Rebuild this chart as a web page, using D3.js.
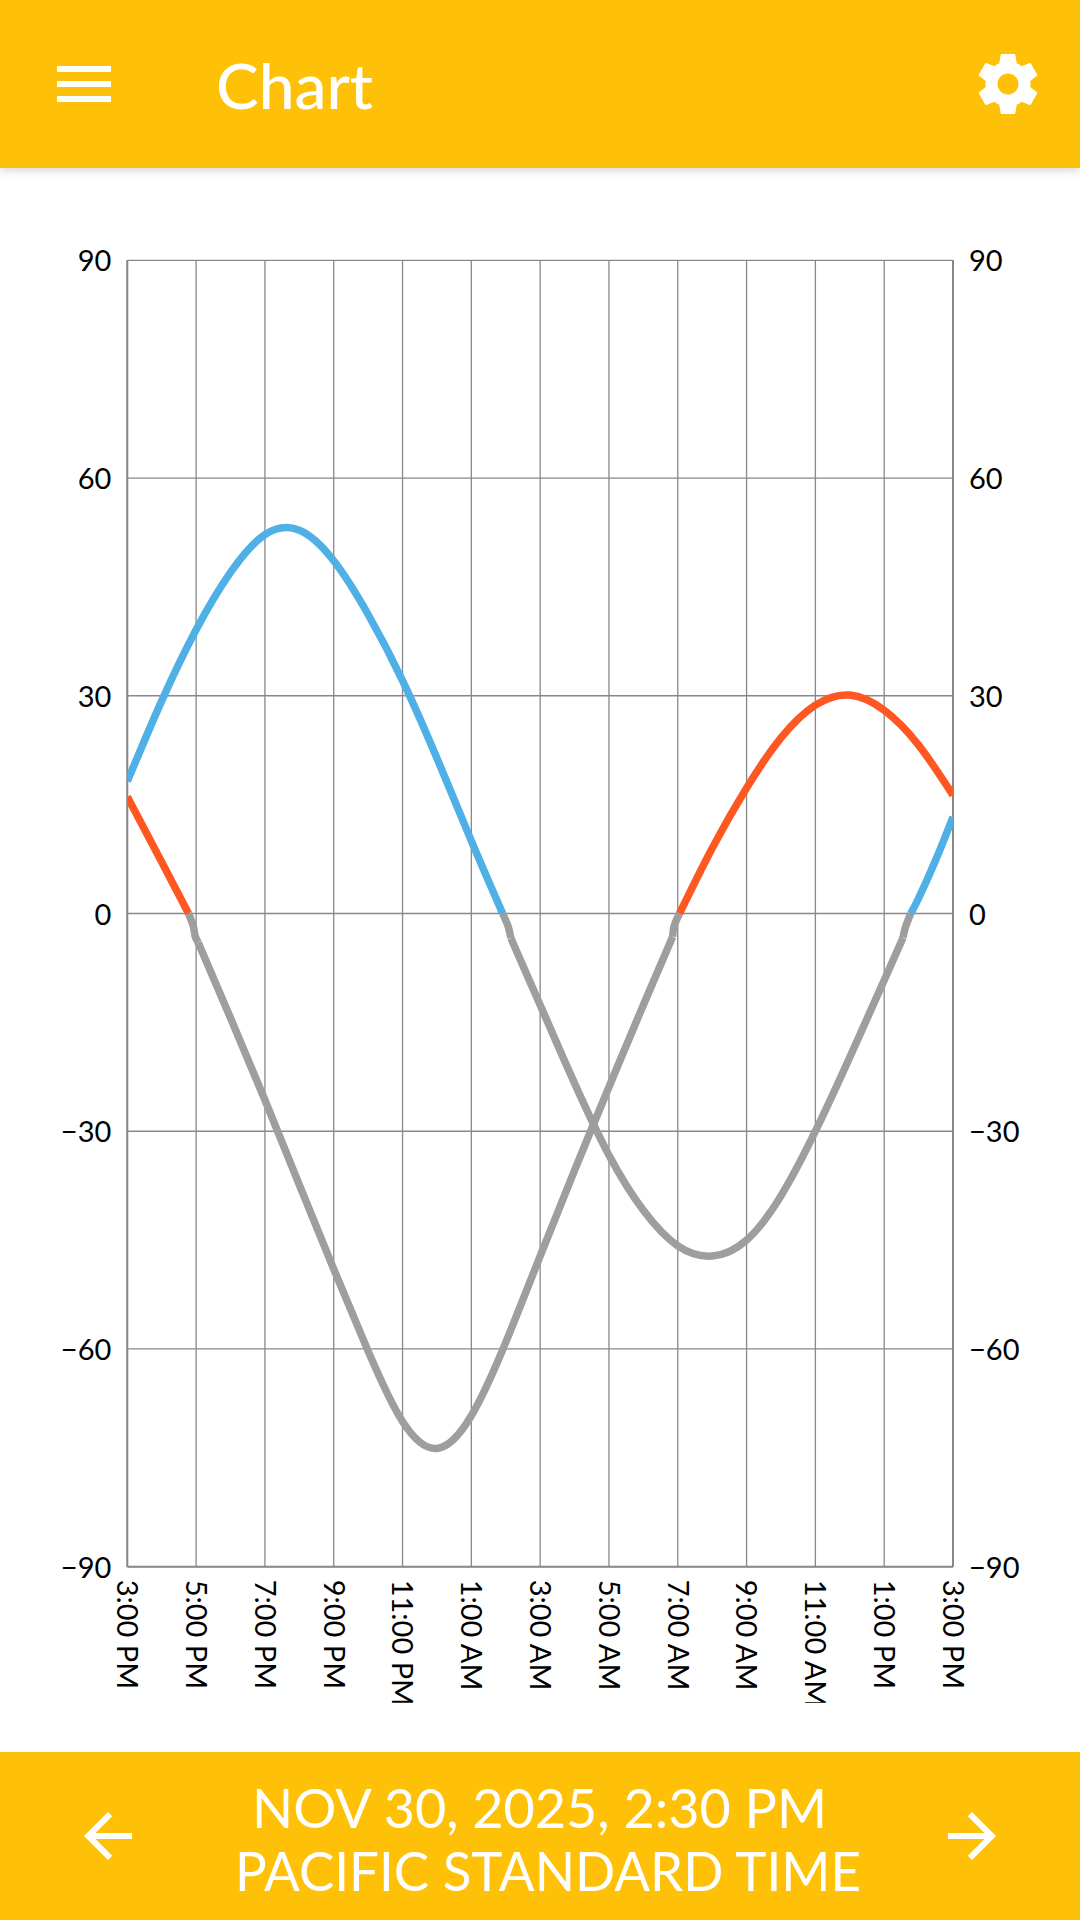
<!DOCTYPE html>
<html>
<head>
<meta charset="utf-8">
<title>Chart</title>
<script src="https://cdn.jsdelivr.net/npm/d3@7"></script>
<style>
  html, body { margin: 0; padding: 0; background: #fff; }
  svg { display: block; font-family: Lato, sans-serif; }
  .domain { display: none; }
  .tick line { stroke: #888; stroke-width: 1.3; }
  .tick text { fill: #000; font-size: 29px; font-family: Lato, sans-serif; }
</style>
</head>
<body>
<div id="chart"></div>
<script>
// Tick values and labels
const yTicks = [-90, -60, -30, 0, 30, 60, 90];
const xTicks = [0, 2, 4, 6, 8, 10, 12, 14, 16, 18, 20, 22, 24];
const xLabels = ["3:00 PM", "5:00 PM", "7:00 PM", "9:00 PM", "11:00 PM", "1:00 AM", "3:00 AM", "5:00 AM", "7:00 AM", "9:00 AM", "11:00 AM", "1:00 PM", "3:00 PM"];

// Hours after 3:00 PM, and degrees
const blueFirstHours = [0, 1, 2, 3, 4, 5, 6, 7, 8, 9, 10, 10.91];
const blueFirstValues = [18.2, 29.3, 39.1, 47, 52.2, 52.8, 48.6, 41.2, 32.1, 21.4, 10, 0];
const blueLastHours = [22.77, 23, 23.5, 24];
const blueLastValues = [0, 2.1, 7.4, 13.3];

const orangeFirstHours = [0, 1, 1.78];
const orangeFirstValues = [16.1, 7.1, 0];
const orangeLastHours = [16.05, 17, 18, 19, 20, 21, 22, 23, 24];
const orangeLastValues = [0, 9, 17.3, 24.2, 28.7, 30.1, 28, 23.2, 16.3];

const greyFirstHours = [11.15, 12, 13, 14, 15, 16, 17, 18, 19, 20, 21, 22, 22.55];
const greyFirstValues = [-3.4, -12.6, -23.4, -33.3, -40.9, -45.8, -47.2, -45, -38.9, -30, -19.8, -9.2, -3.3];
const greySecondHours = [2.06, 3, 4, 5, 6, 7, 8, 9, 10, 11, 12, 13, 14, 15, 15.85];
const greySecondValues = [-4, -14.4, -25.7, -37.4, -49, -60.3, -70, -73.7, -69.2, -59.1, -47.2, -35.4, -23.9, -12.6, -3.2];

// The short bends just below zero
const bendOneHours = [1.78, 1.92, 1.97, 2.06];
const bendOneValues = [0, -1.8, -3.1, -4];
const bendTwoHours = [10.91, 11.07, 11.15];
const bendTwoValues = [0, -1.8, -3.4];
const bendThreeHours = [15.85, 15.87, 15.92, 16.05];
const bendThreeValues = [-3.2, -2.3, -1.35, 0];
const bendFourHours = [22.55, 22.61, 22.77];
const bendFourValues = [-3.3, -2, 0];

const title = "Chart";
const footerLines = ["NOV 30, 2025, 2:30 PM", "PACIFIC STANDARD TIME"];

const amber = "#FFC107";
const blue = "#4FB0E6";
const orange = "#FF5722";
const grey = "#9E9E9E";

const svg = d3.select("#chart").append("svg").attr("width", 1080).attr("height", 1920);

// Plot area
const plot = { left: 127.3, right: 953, top: 260.3, bottom: 1566.7 };

const xScale = d3.scaleLinear().domain([0, 24]).range([plot.left, plot.right]);
const yScale = d3.scaleLinear().domain([-90, 90]).range([plot.bottom, plot.top]);

svg.append("defs").append("clipPath").attr("id", "plotClip").append("rect")
  .attr("x", plot.left).attr("y", plot.top)
  .attr("width", plot.right - plot.left).attr("height", plot.bottom - plot.top);
// Long bottom labels get cut off at this depth
svg.select("defs").append("clipPath").attr("id", "labelClip").append("rect")
  .attr("x", -60).attr("y", 0).attr("width", 120).attr("height", 136);

// Axes, their ticks double as the grid
svg.append("g")
  .attr("transform", `translate(${plot.left},0)`)
  .call(d3.axisLeft(yScale).offset(0).tickValues(yTicks).tickSize(-(plot.right - plot.left)).tickPadding(16))
  .selectAll("text").attr("dy", "0.38em");

svg.append("g")
  .attr("transform", `translate(${plot.right},0)`)
  .call(d3.axisRight(yScale).offset(0).tickValues(yTicks).tickSize(0).tickPadding(16))
  .selectAll("text").attr("dy", "0.38em");

svg.append("g")
  .attr("transform", `translate(0,${plot.bottom})`)
  .call(d3.axisBottom(xScale).offset(0).tickValues(xTicks).tickSize(-(plot.bottom - plot.top)).tickFormat(""));

const xAxis = svg.append("g")
  .attr("transform", `translate(0,${plot.bottom})`)
  .call(d3.axisBottom(xScale).offset(0).tickValues(xTicks).tickSize(0).tickFormat((d, i) => xLabels[i]));

xAxis.selectAll(".tick").attr("clip-path", "url(#labelClip)");

xAxis.selectAll("text")
  .attr("transform", "rotate(90)")
  .attr("x", 13)
  .attr("y", 0)
  .attr("dy", "0.35em")
  .style("text-anchor", "start");

// Plot border is heavier on three sides
const border = [
  [plot.left, plot.top, plot.left, plot.bottom],
  [plot.right, plot.top, plot.right, plot.bottom],
  [plot.left, plot.bottom, plot.right, plot.bottom],
];
svg.append("g").selectAll("line").data(border).join("line")
  .attr("x1", (d) => d[0]).attr("y1", (d) => d[1])
  .attr("x2", (d) => d[2]).attr("y2", (d) => d[3])
  .attr("stroke", "#888").attr("stroke-width", 2);

// Curves
const smooth = d3.line()
  .x((d) => xScale(d[0]))
  .y((d) => yScale(d[1]))
  .curve(d3.curveNatural);

const segments = [
  [blueFirstHours, blueFirstValues, blue],
  [blueLastHours, blueLastValues, blue],
  [orangeFirstHours, orangeFirstValues, orange],
  [orangeLastHours, orangeLastValues, orange],
  [bendOneHours, bendOneValues, grey],
  [bendTwoHours, bendTwoValues, grey],
  [bendThreeHours, bendThreeValues, grey],
  [bendFourHours, bendFourValues, grey],
  [greyFirstHours, greyFirstValues, grey],
  [greySecondHours, greySecondValues, grey],
];

svg.append("g").attr("clip-path", "url(#plotClip)")
  .selectAll("path").data(segments).join("path")
  .attr("d", (d) => smooth(d3.zip(d[0], d[1])))
  .attr("fill", "none")
  .attr("stroke", (d) => d[2])
  .attr("stroke-width", 7.5)
  .attr("stroke-linecap", "butt");

// Top bar
svg.append("rect").attr("width", 1080).attr("height", 168).attr("fill", amber)
  .style("filter", "drop-shadow(0 2px 5px rgba(0,0,0,0.18))");

svg.append("g").selectAll("rect").data([66, 81, 96]).join("rect")
  .attr("x", 57).attr("y", (d) => d).attr("width", 54).attr("height", 6).attr("fill", "#fff");

svg.append("text").attr("x", 216).attr("y", 109)
  .attr("fill", "#fff").style("font-size", "62px").style("font-weight", 500)
  .attr("textLength", 157).attr("lengthAdjust", "spacingAndGlyphs")
  .text(title);

svg.append("path")
  .attr("transform", "translate(972,48) scale(3)")
  .attr("fill", "#fff")
  .attr("d", "M19.43 12.98c.04-.32.07-.64.07-.98s-.03-.66-.07-.98l2.11-1.65c.19-.15.24-.42.12-.64l-2-3.46c-.12-.22-.39-.3-.61-.22l-2.49 1c-.52-.4-1.08-.73-1.69-.98l-.38-2.65C14.46 2.18 14.25 2 14 2h-4c-.25 0-.46.18-.49.42l-.38 2.65c-.61.25-1.17.59-1.69.98l-2.49-1c-.23-.09-.49 0-.61.22l-2 3.46c-.13.22-.07.49.12.64l2.11 1.65c-.04.32-.07.65-.07.98s.03.66.07.98l-2.11 1.65c-.19.15-.24.42-.12.64l2 3.46c.12.22.39.3.61.22l2.49-1c.52.4 1.08.73 1.69.98l.38 2.65c.03.24.24.42.49.42h4c.25 0 .46-.18.49-.42l.38-2.65c.61-.25 1.17-.59 1.69-.98l2.49 1c.23.09.49 0 .61-.22l2-3.46c.12-.22.07-.49-.12-.64l-2.11-1.65zM12 15.5c-1.93 0-3.5-1.57-3.5-3.5s1.57-3.5 3.5-3.5 3.5 1.57 3.5 3.5-1.57 3.5-3.5 3.5z");

// Bottom bar
svg.append("rect").attr("y", 1752).attr("width", 1080).attr("height", 168).attr("fill", amber);

svg.append("path")
  .attr("transform", "translate(72,1800) scale(3)")
  .attr("fill", "#fff")
  .attr("d", "M20 11H7.83l5.59-5.59L12 4l-8 8 8 8 1.41-1.41L7.83 13H20v-2z");

svg.append("path")
  .attr("transform", "translate(936,1800) scale(3)")
  .attr("fill", "#fff")
  .attr("d", "M12 4l-1.41 1.41L16.17 11H4v2h12.17l-5.58 5.59L12 20l8-8z");

svg.append("g").selectAll("text").data(footerLines).join("text")
  .attr("x", (d, i) => [252, 235][i])
  .attr("y", (d, i) => [1828, 1891][i])
  .attr("textLength", (d, i) => [575, 626][i])
  .attr("lengthAdjust", "spacingAndGlyphs")
  .attr("fill", "#fff")
  .style("font-size", "55px")
  .text((d) => d);
</script>
</body>
</html>
